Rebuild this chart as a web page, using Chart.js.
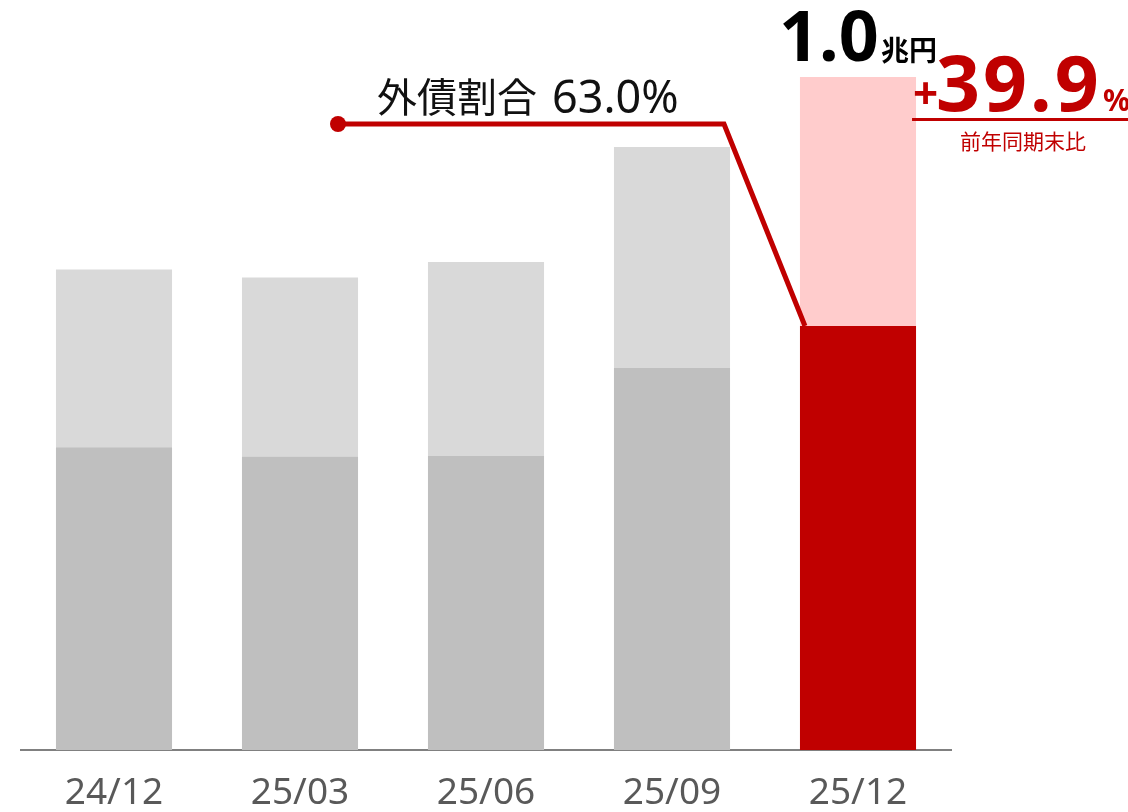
<!DOCTYPE html>
<html>
<head>
<meta charset="utf-8">
<script src="https://cdn.jsdelivr.net/npm/chart.js@4/dist/chart.umd.min.js"></script>
<style>
  html, body { margin: 0; padding: 0; background: #fff; }
  #wrap { width: 1128px; height: 812px; position: relative; }
</style>
</head>
<body>
<div id="wrap"><canvas id="bondChart"></canvas></div>
<script>
// データ（億円）
const periods = ['24/12', '25/03', '25/06', '25/09', '25/12'];
const foreignBonds = [4500, 4360, 4370, 5680, 6300];
const domesticBonds = [2640, 2660, 2880, 3280, 3700];
const totalLabel = '1.0';
const foreignRatioName = '外債割合';
const foreignRatioValue = '63.0%';
const yoyLabel = '39.9';

const RED = '#c00000';
const FONT = '"Noto Sans", "Noto Sans CJK JP", sans-serif';
const CJK = '"Noto Sans CJK JP", sans-serif';

// 注釈（外債割合の引き出し線、合計、前年比）
const annotations = {
  id: 'annotations',
  afterDatasetsDraw(chart) {
    const ctx = chart.ctx;
    const last = periods.length - 1;
    const bar = chart.getDatasetMeta(0).data[last];
    const topBar = chart.getDatasetMeta(1).data[last];
    const barLeft = bar.x - bar.width / 2;
    const barRight = bar.x + bar.width / 2;

    ctx.save();
    // 引き出し線
    ctx.strokeStyle = RED;
    ctx.lineWidth = 5;
    ctx.beginPath();
    ctx.moveTo(338, 124);
    ctx.lineTo(724, 124);
    ctx.lineTo(barLeft + 5, bar.y);
    ctx.stroke();
    ctx.fillStyle = RED;
    ctx.beginPath();
    ctx.arc(338, 124, 8, 0, Math.PI * 2);
    ctx.fill();

    // 外債割合
    ctx.fillStyle = '#111';
    ctx.textAlign = 'left';
    ctx.textBaseline = 'alphabetic';
    ctx.font = '40px ' + CJK;
    ctx.fillText(foreignRatioName, 377, 112);
    ctx.font = '45px ' + FONT;
    ctx.fillText(foreignRatioValue, 552, 113);

    // 合計
    ctx.fillStyle = '#000';
    ctx.font = 'bold 70px ' + FONT;
    ctx.fillText(totalLabel, 779, topBar.y - 16);
    ctx.font = 'bold 28px ' + CJK;
    ctx.fillText('兆円', 881, topBar.y - 16);

    // 前年同期末比
    ctx.fillStyle = RED;
    ctx.font = 'bold 44px ' + FONT;
    ctx.fillText('+', 913, 109);
    ctx.font = 'bold 77px ' + FONT;
    ctx.letterSpacing = '3px';
    ctx.fillText(yoyLabel, 936, 111);
    ctx.letterSpacing = '0px';
    ctx.font = 'bold 30px ' + FONT;
    ctx.fillText('%', 1103, 111);
    ctx.fillRect(barRight - 4, 118, 1128 - barRight + 4, 3);
    ctx.font = '21px ' + CJK;
    ctx.textAlign = 'center';
    ctx.fillText('前年同期末比', 1023, 149);
    ctx.restore();
  }
};

const ctx = document.getElementById('bondChart').getContext('2d');
new Chart(ctx, {
  type: 'bar',
  data: {
    labels: periods,
    datasets: [
      {
        label: '外債',
        data: foreignBonds,
        backgroundColor: periods.map((p, i) => i === periods.length - 1 ? RED : '#bfbfbf'),
        borderWidth: 0
      },
      {
        label: '国内債',
        data: domesticBonds,
        backgroundColor: periods.map((p, i) => i === periods.length - 1 ? '#ffcccc' : '#d9d9d9'),
        borderWidth: 0
      }
    ]
  },
  options: {
    responsive: true,
    maintainAspectRatio: false,
    animation: false,
    layout: {
      padding: { top: 77, left: 21, right: 177, bottom: 0 }
    },
    datasets: {
      bar: { categoryPercentage: 1, barPercentage: 0.624 }
    },
    plugins: {
      legend: { display: false },
      tooltip: { enabled: false }
    },
    scales: {
      x: {
        stacked: true,
        grid: { display: false, drawTicks: false },
        border: { display: true, color: '#808080', width: 2 },
        ticks: {
          color: '#595959',
          padding: 21,
          font: { family: FONT, size: 37 }
        },
        afterFit: function(scale) {
          scale.height = 62;
        }
      },
      y: {
        stacked: true,
        display: false,
        min: 0,
        max: 10000
      }
    }
  },
  plugins: [annotations]
});
</script>
</body>
</html>
